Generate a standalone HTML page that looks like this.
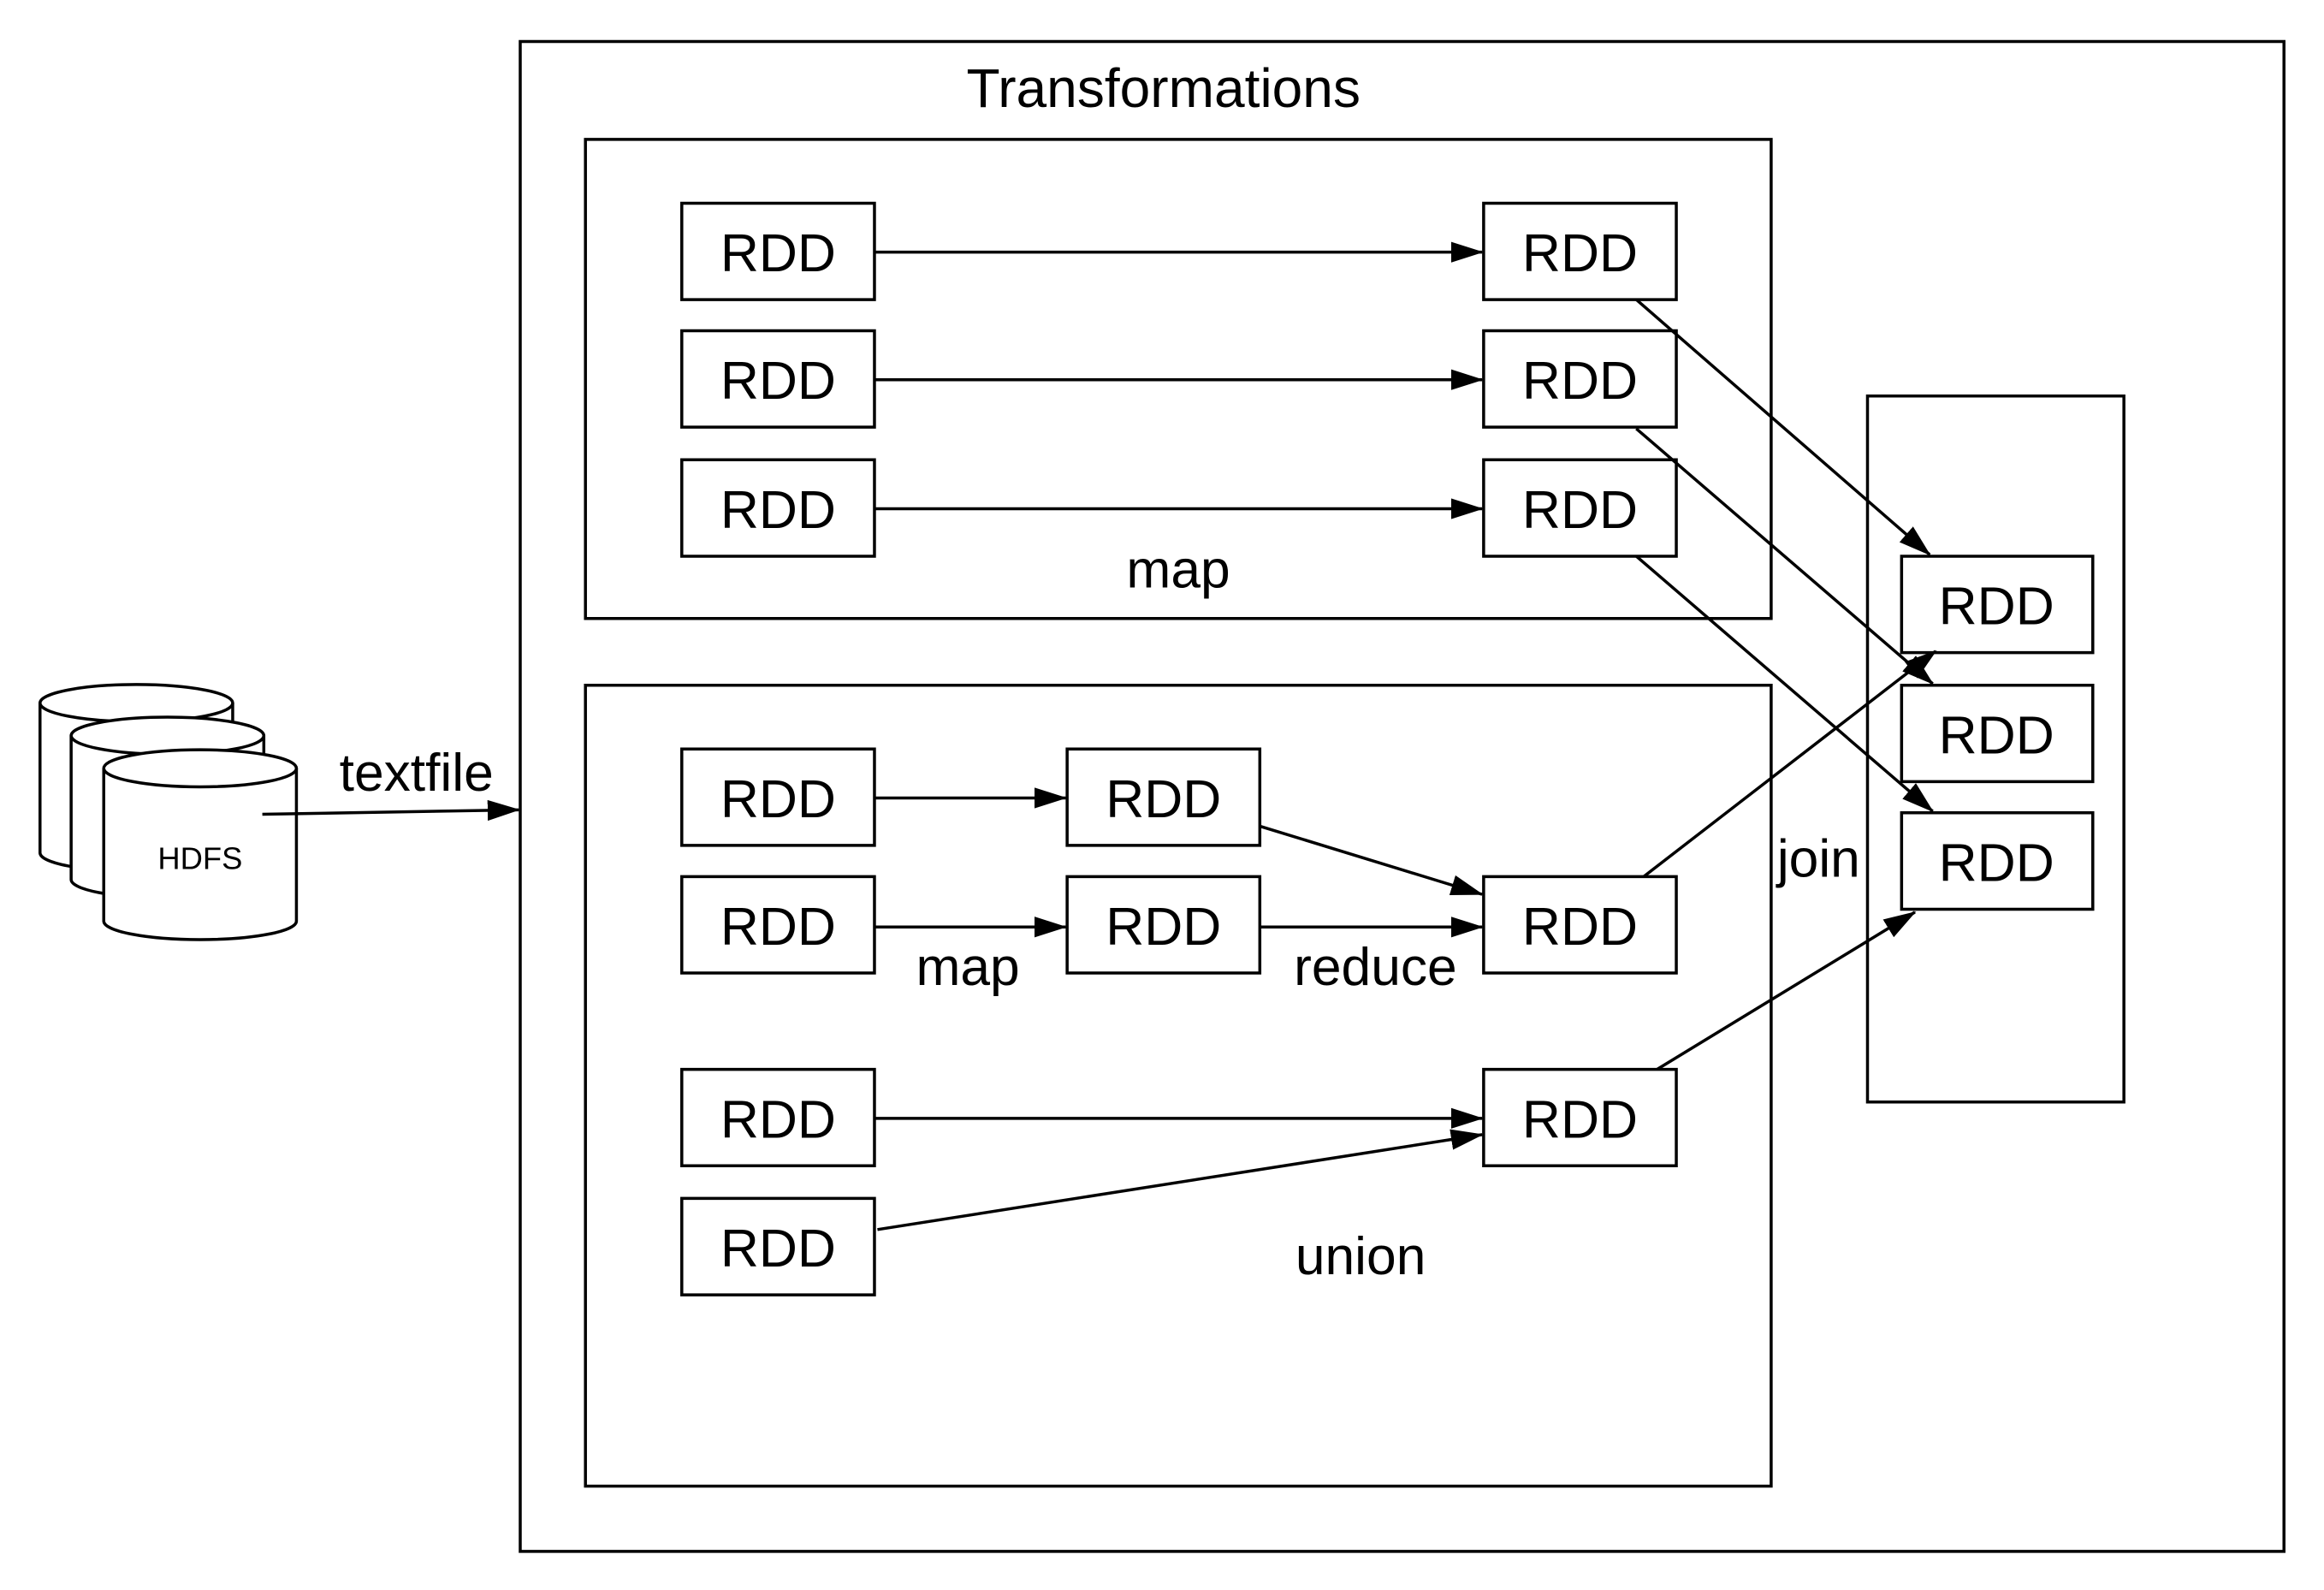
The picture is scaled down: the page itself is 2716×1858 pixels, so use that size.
<!DOCTYPE html>
<html><head><meta charset="utf-8"><style>html,body{margin:0;padding:0;background:#fff}svg{display:block}</style></head>
<body>
<svg width="2716" height="1858" viewBox="0 0 1568 1072" preserveAspectRatio="none" xmlns="http://www.w3.org/2000/svg" font-family="Liberation Sans, Arial, sans-serif">
<defs>
<marker id="a" markerUnits="userSpaceOnUse" markerWidth="22" markerHeight="14" refX="21" refY="7" orient="auto"><path d="M0,0 L22,7 L0,14 Z" fill="#000"/></marker>
</defs>
<g fill="none" stroke="#000" stroke-width="3.5">
<rect x="351" y="28" width="1190" height="1018" vector-effect="non-scaling-stroke"/>
<rect x="395" y="94" width="800" height="323" vector-effect="non-scaling-stroke"/>
<rect x="395" y="462" width="800" height="540" vector-effect="non-scaling-stroke"/>
<rect x="1260" y="267" width="173" height="476" vector-effect="non-scaling-stroke"/>
</g>
<g fill="#fff" stroke="#000" stroke-width="3.5">
<path d="M27,474 L27,575 A65,12.5 0 0 0 157,575 L157,474" vector-effect="non-scaling-stroke"/>
<ellipse cx="92" cy="474" rx="65" ry="12.5" vector-effect="non-scaling-stroke"/>
<path d="M48,496 L48,593 A65,12.5 0 0 0 178,593 L178,496" vector-effect="non-scaling-stroke"/>
<ellipse cx="113" cy="496" rx="65" ry="12.5" vector-effect="non-scaling-stroke"/>
<path d="M70,518 L70,621 A65,12.5 0 0 0 200,621 L200,518" vector-effect="non-scaling-stroke"/>
<ellipse cx="135" cy="518" rx="65" ry="12.5" vector-effect="non-scaling-stroke"/>
</g>
<g fill="none" stroke="#000" stroke-width="3.5">
<rect x="460" y="137" width="130" height="65" vector-effect="non-scaling-stroke"/>
<rect x="460" y="223" width="130" height="65" vector-effect="non-scaling-stroke"/>
<rect x="460" y="310" width="130" height="65" vector-effect="non-scaling-stroke"/>
<rect x="1001" y="137" width="130" height="65" vector-effect="non-scaling-stroke"/>
<rect x="1001" y="223" width="130" height="65" vector-effect="non-scaling-stroke"/>
<rect x="1001" y="310" width="130" height="65" vector-effect="non-scaling-stroke"/>
<rect x="460" y="505" width="130" height="65" vector-effect="non-scaling-stroke"/>
<rect x="460" y="591" width="130" height="65" vector-effect="non-scaling-stroke"/>
<rect x="720" y="505" width="130" height="65" vector-effect="non-scaling-stroke"/>
<rect x="720" y="591" width="130" height="65" vector-effect="non-scaling-stroke"/>
<rect x="1001" y="591" width="130" height="65" vector-effect="non-scaling-stroke"/>
<rect x="460" y="721" width="130" height="65" vector-effect="non-scaling-stroke"/>
<rect x="460" y="808" width="130" height="65" vector-effect="non-scaling-stroke"/>
<rect x="1001" y="721" width="130" height="65" vector-effect="non-scaling-stroke"/>
<rect x="1283" y="375" width="129" height="65" vector-effect="non-scaling-stroke"/>
<rect x="1283" y="462" width="129" height="65" vector-effect="non-scaling-stroke"/>
<rect x="1283" y="548" width="129" height="65" vector-effect="non-scaling-stroke"/>
</g>
<g stroke="#000" stroke-width="3.5" fill="none" marker-end="url(#a)">
<line x1="177" y1="549" x2="350" y2="546" vector-effect="non-scaling-stroke"/>
<line x1="590" y1="170" x2="1000" y2="170" vector-effect="non-scaling-stroke"/>
<line x1="590" y1="256" x2="1000" y2="256" vector-effect="non-scaling-stroke"/>
<line x1="590" y1="343" x2="1000" y2="343" vector-effect="non-scaling-stroke"/>
<line x1="1104" y1="202" x2="1302" y2="374" vector-effect="non-scaling-stroke"/>
<line x1="1104" y1="289" x2="1304" y2="461" vector-effect="non-scaling-stroke"/>
<line x1="1104" y1="375" x2="1304" y2="547" vector-effect="non-scaling-stroke"/>
<line x1="1109" y1="591" x2="1306" y2="439" vector-effect="non-scaling-stroke"/>
<line x1="1118" y1="721" x2="1292" y2="615" vector-effect="non-scaling-stroke"/>
<line x1="590" y1="538" x2="719" y2="538" vector-effect="non-scaling-stroke"/>
<line x1="850" y1="557" x2="1000" y2="603" vector-effect="non-scaling-stroke"/>
<line x1="590" y1="625" x2="719" y2="625" vector-effect="non-scaling-stroke"/>
<line x1="850" y1="625" x2="1000" y2="625" vector-effect="non-scaling-stroke"/>
<line x1="590" y1="754" x2="1000" y2="754" vector-effect="non-scaling-stroke"/>
<line x1="592" y1="829" x2="1000" y2="765" vector-effect="non-scaling-stroke"/>
</g>
<g font-size="36" text-anchor="middle" fill="#000">
<text x="525" y="183">RDD</text>
<text x="525" y="269">RDD</text>
<text x="525" y="356">RDD</text>
<text x="1066" y="183">RDD</text>
<text x="1066" y="269">RDD</text>
<text x="1066" y="356">RDD</text>
<text x="525" y="551">RDD</text>
<text x="525" y="637">RDD</text>
<text x="785" y="551">RDD</text>
<text x="785" y="637">RDD</text>
<text x="1066" y="637">RDD</text>
<text x="525" y="767">RDD</text>
<text x="525" y="854">RDD</text>
<text x="1066" y="767">RDD</text>
<text x="1347" y="421">RDD</text>
<text x="1347" y="508">RDD</text>
<text x="1347" y="594">RDD</text>
<text x="785" y="72" font-size="37">Transformations</text>
<text x="795" y="396">map</text>
<text x="653" y="664">map</text>
<text x="928" y="664">reduce</text>
<text x="918" y="859">union</text>
<text x="1227" y="591">join</text>
<text x="281" y="533">textfile</text>
<text x="135" y="586" font-size="21">HDFS</text>
</g>
</svg>
</body></html>
